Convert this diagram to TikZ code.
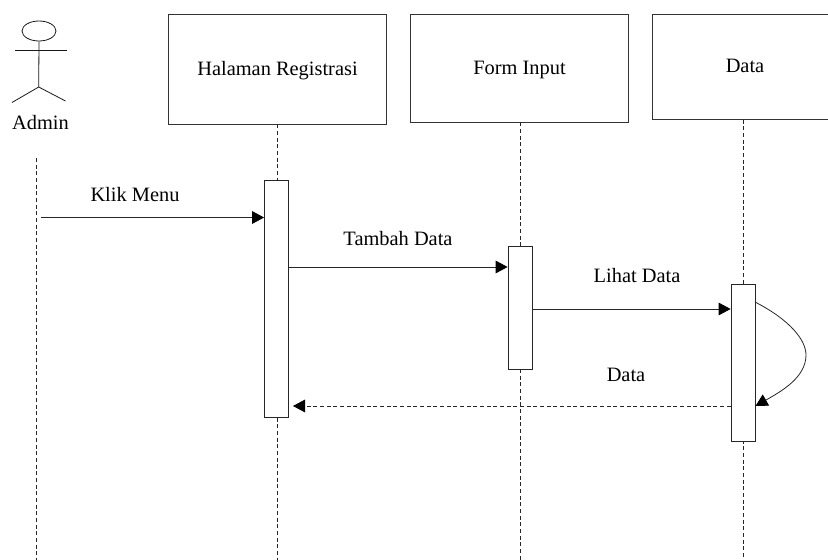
\documentclass[tikz,border=0pt]{standalone}
\usepackage{fontspec}
\setmainfont{Liberation Serif}
\usepackage{tikz}
\usetikzlibrary{shapes,arrows.meta}

\begin{document}
\begin{tikzpicture}[x=0.75pt,y=-0.75pt]
    % Define block styles
    \tikzstyle{object} = [rectangle, minimum width=163pt, minimum height=82.5pt, text centered, draw=black!80, fill=white, line width=0.6pt, inner sep=0pt, text height=10pt, text depth=0pt, font=\fontsize{15.3}{18}\selectfont]
    \tikzstyle{activation} = [rectangle, minimum width=18pt, draw=black!85, fill=white, line width=0.6pt, inner sep=0pt]
    \tikzstyle{label} = [inner sep=0pt, text height=10pt, text depth=0pt, font=\fontsize{15.3}{18}\selectfont]
    \tikzstyle{arrow} = [draw=black!85, line width=0.6pt, -{Triangle[length=9pt,width=9.5pt,color=black,fill=black]}]
    \tikzstyle{lifeline} = [draw=black!85, line width=0.6pt, densely dashed]
    \tikzstyle{actor} = [draw=black!90, line width=0.6pt]

    \useasboundingbox (0,0) rectangle (828,560);

    % Draw lifelines
    \node (registrasi) [object] at (277.5,69) {Halaman Registrasi};
    \node (forminput) [object, minimum height=81pt] at (519.5,68) {Form Input};
    \node (data) [object, minimum height=78.75pt, anchor=north west] at (652,14) {};
    \node (datalabel) [label] at (745,65.5) {Data};
    \coordinate (adminbegin) at (36,158);
    \coordinate (adminend) at (36,560);
    \coordinate (registrasiend) at (277,560);
    \coordinate (forminputend) at (520,560);
    \coordinate (dataend) at (743,560);
    \draw [lifeline] (adminbegin) -- (adminend);
    \draw [lifeline] (registrasi.south -| registrasiend) -- (registrasiend);
    \draw [lifeline] (forminput.south -| forminputend) -- (forminputend);
    \draw [lifeline] (data.south -| dataend) -- (dataend);

    % Draw activations
    \node (barregistrasi) [activation, minimum height=177.75pt] at (276.5,298.5) {};
    \node (barforminput) [activation, minimum height=92.25pt] at (520,307.5) {};
    \node (bardata) [activation, minimum height=117.75pt] at (743,362.5) {};

    % Draw actor
    \node (head) [actor, ellipse, minimum width=25.5pt, minimum height=15pt, inner sep=0pt] at (39,31) {};
    \coordinate (arml) at (15,50);
    \coordinate (armr) at (66.5,50);
    \coordinate (hip) at (38.7,87);
    \coordinate (legl) at (12,102.5);
    \coordinate (legr) at (65.5,101);
    \node (admin) [label] at (40.5,122.5) {Admin};
    \draw [actor] (head.south) -- (hip);
    \draw [actor] (arml) -- (armr);
    \draw [actor] (legl) -- (hip) -- (legr);

    % Draw edges
    \coordinate (klik) at (41,217.5);
    \coordinate (tambah) at (400,267);
    \coordinate (lihat) at (640,309);
    \coordinate (kembali) at (293,406);
    \coordinate (selfbegin) at (755,302);
    \coordinate (selfend) at (755.5,406);
    \draw [arrow] (klik) -- (barregistrasi.west |- klik);
    \draw [arrow] (barregistrasi.east |- tambah) -- (barforminput.west |- tambah);
    \draw [arrow] (barforminput.east |- lihat) -- (bardata.west |- lihat);
    \draw [arrow, densely dashed] (bardata.west |- kembali) -- (kembali);
    \draw [arrow] (selfbegin) .. controls (790,320) and (806,340) .. (806,355) .. controls (806,378) and (780,392) .. (selfend);

    % Draw labels
    \node (klikmenu) [label] at (135,194.5) {Klik Menu};
    \node (tambahdata) [label] at (398,239) {Tambah Data};
    \node (lihatdata) [label] at (637,276) {Lihat Data};
    \node (datakembali) [label] at (626,375) {Data};
\end{tikzpicture}
\end{document}
